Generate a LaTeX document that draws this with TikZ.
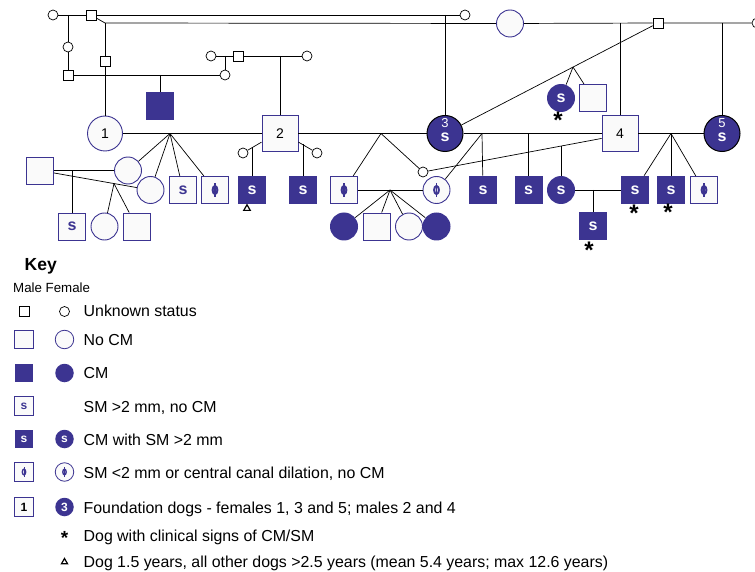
\documentclass[tikz,border=0pt]{standalone}
\usepackage{fontspec}
\setmainfont{Liberation Sans}
\usetikzlibrary{shapes.geometric}
\definecolor{dogblue}{RGB}{60,52,145}
\definecolor{paper}{RGB}{250,250,250}
\newcommand{\phimark}[1]{%
    \draw[dogblue, line width=#1*1.2pt] ([yshift=-#1*7pt]path picture bounding box.center) -- ([yshift=#1*7pt]path picture bounding box.center);
    \draw[dogblue, line width=#1*2pt] (path picture bounding box.center) ellipse [x radius=#1*2.4pt, y radius=#1*4pt];}
\tikzset{
    unkm/.style={draw=black, fill=white, line width=0.7pt, minimum size=10pt, inner sep=0pt},
    unkf/.style={unkm, circle},
    nocm/.style={draw=dogblue, fill=paper, line width=0.9pt, minimum size=27pt, inner sep=0pt},
    nocmf/.style={nocm, circle},
    cmsq/.style={fill=dogblue, minimum size=28pt, inner sep=0pt, text=white, font=\bfseries\fontsize{16}{16}\selectfont},
    cmcirc/.style={cmsq, circle},
    smbox/.style={nocm, text=dogblue, font=\bfseries\fontsize{16}{16}\selectfont},
    phibox/.style={nocm, path picture={\phimark{1}}},
    phicirc/.style={phibox, circle},
    found/.style={draw=dogblue, fill=paper, line width=0.9pt, minimum size=36pt, inner sep=0pt, font=\fontsize{14}{14}\selectfont},
    foundf/.style={circle, draw=black, fill=dogblue, line width=1pt, minimum size=36pt, inner sep=0pt},
    foundnum/.style={inner sep=0pt, text=white, font=\fontsize{13}{13}\selectfont},
    founds/.style={inner sep=0pt, text=white, font=\bfseries\fontsize{16}{16}\selectfont},
    keysym/.style={minimum size=18.5pt, line width=0.8pt, font=\bfseries\fontsize{12}{12}\selectfont},
    keytext/.style={anchor=base west, font=\fontsize{15.9}{16}\selectfont},
    ast/.style={anchor=north, inner sep=0pt, font=\bfseries\fontsize{24}{24}\selectfont},
    tri/.style={regular polygon, regular polygon sides=3, draw=black, line width=1.2pt, minimum size=7.5pt, inner sep=0pt}
}
\begin{document}
\begin{tikzpicture}[x=1pt, y=-1pt, line width=0.7pt]
\useasboundingbox (0,0) rectangle (755,572);
    % oberste Generation:
    \node[unkf] (g1) at (53,15) {};
    \node[unkm] (g2) at (91,15) {};
    \node[unkf] (g3) at (465,15) {};
    \node[unkf] (g4) at (68,47) {};
    \node[unkm] (g5) at (68,75) {};
    \node[unkm] (g6) at (105,61) {};
    \node[unkf] (g7) at (225,75) {};
    \node[unkf] (g8) at (211,56) {};
    \node[unkm] (g9) at (238,56) {};
    \node[unkf] (g10) at (307,56) {};
    \node[nocmf] (g11) at (510,23.5) {};
    \node[unkm] (g12) at (658,23) {};
    \node[unkf] (g13) at (757,23) {}; % am Rand
    \node[cmsq] (c1) at (160,106.5) {};
    % Gruenderhunde 1-5:
    \node[found, circle, minimum size=35pt] (n1) at (105,133.5) {1};
    \node[found] (n2) at (280,133.5) {2};
    \node[foundf] (n3) at (445,133.5) {};
    \node[foundnum] (n3n) at (445,123) {3};
    \node[founds] (n3s) at (445,137.5) {s};
    \node[found] (n4) at (620,133.5) {4};
    \node[foundf] (n5) at (722,133.5) {};
    \node[foundnum] (n5n) at (722,123) {5};
    \node[founds] (n5s) at (722,137.5) {s};
    \node[cmcirc] (a1) at (561,98) {s};
    \node[nocm] (a2) at (593,98) {};
    % zweite Reihe:
    \node[nocm] (b0) at (40,170.5) {};
    \node[nocmf] (b1) at (128,170.5) {};
    \node[nocmf] (b2) at (150.5,190) {};
    \node[smbox] (b3) at (183,190) {s};
    \node[phibox] (b4) at (215,190) {};
    \node[unkf] (u1) at (243,153) {};
    \node[unkf] (u2) at (317,153) {};
    \node[cmsq] (b5) at (252,190) {s};
    \node[cmsq] (b6) at (303,190) {s};
    \node[phibox] (b7) at (344,190) {};
    \node[unkf] (u3) at (423,172) {};
    \node[phicirc] (b8) at (436.5,190) {};
    \node[cmsq] (b9) at (483,190) {s};
    \node[cmsq] (b10) at (528.5,190) {s};
    \node[cmcirc] (b11) at (561,190) {s};
    \node[cmsq] (b12) at (635,190) {s};
    \node[cmsq] (b13) at (671,190) {s};
    \node[phibox] (b14) at (704,190) {};
    % dritte Reihe:
    \node[smbox] (d1) at (72,226.5) {s};
    \node[nocmf] (d2) at (104.5,226.5) {};
    \node[nocm] (d3) at (136.5,226.5) {};
    \node[cmcirc] (d4) at (344,226.5) {};
    \node[nocm] (d5) at (376.5,226.5) {};
    \node[nocmf] (d6) at (409,226.5) {};
    \node[cmcirc] (d7) at (436.5,226.5) {};
    \node[cmsq] (d8) at (593,226.5) {s};
    % Sterne und Dreieck:
    \node[ast] (s1) at (558,112) {*};
    \node[ast] (s2) at (634,205) {*};
    \node[ast] (s3) at (668,204) {*};
    \node[ast] (s4) at (589,242) {*};
    \node[tri] (t1) at (247,208.5) {};
    % Verzweigungspunkte:
    \coordinate (ja) at (68,15);
    \coordinate (jb) at (105,23);
    \coordinate (jc) at (445,15);
    \coordinate (jd) at (620,23);
    \coordinate (je) at (722,23);
    \coordinate (jf) at (160,75);
    \coordinate (jg) at (225,56);
    \coordinate (jh) at (280,56);
    \coordinate (ji) at (573,67);
    \coordinate (k1) at (170,133.5);
    \coordinate (k2) at (381,133.5);
    \coordinate (k3) at (482,133.5);
    \coordinate (k4) at (528.5,133.5);
    \coordinate (k5) at (561,145.8);
    \coordinate (k6) at (671,133.5);
    \coordinate (kl) at (252,147.5);
    \coordinate (kr) at (303,144.5);
    \coordinate (m1) at (72,170.5);
    \coordinate (m2) at (114,183.6);
    \coordinate (m3) at (390,190);
    \coordinate (m4) at (593,190);
    % Linien oben:
    \draw (g1) -- (g2) -- (g3);
    \draw (g2) -- (jb) -- (g11) -- (g12) -- (g13);
    \draw (ja) -- (g4) -- (g5);
    \draw (jb) -- (g6) -- (n1);
    \draw (jc) -- (n3);
    \draw (jd) -- (n4);
    \draw (je) -- (n5);
    \draw (g5) -- (g7);
    \draw (jf) -- (c1);
    \draw (g8) -- (g9) -- (g10);
    \draw (jg) -- (g7);
    \draw (jh) -- (n2);
    \draw (g12) -- (n3);
    \draw (ji) -- (a1);
    \draw (ji) -- (a2);
    % Paarungen der Gruender:
    \draw (n1) -- (n2) -- (n3) -- (n4) -- (n5);
    \draw (u1) -- (n2.205);
    \draw (u2) -- (n2.335);
    \draw (u3) -- (n4.195);
    \foreach \c in {b1,b2,b3,b4} \draw (k1) -- (\c);
    \draw (kl) -- (b5);
    \draw (kr) -- (b6);
    \draw (k2) -- (b7);
    \draw (k2) -- (u3);
    \draw (k3) -- (b8);
    \draw (k3) -- (b9);
    \draw (k4) -- (b10);
    \draw (k5) -- (b11);
    \foreach \c in {b12,b13,b14} \draw (k6) -- (\c);
    % untere Paarungen:
    \draw (b0) -- (b1);
    \draw (b0) -- (b2);
    \draw (m1) -- (d1);
    \draw (m2) -- (d2);
    \draw (m2) -- (d3);
    \draw (b7) -- (b8);
    \foreach \c in {d4,d5,d6,d7} \draw (m3) -- (\c);
    \draw (b11) -- (b12);
    \draw (m4) -- (d8);
    % Legende:
    \node[anchor=base west, font=\bfseries\fontsize{17.5}{18}\selectfont] (key) at (21,270) {Key};
    \node[anchor=base west, font=\fontsize{13.3}{14}\selectfont] (sexes) at (9.5,292.5) {Male Female};
    \node[unkm] (km1) at (24,311.5) {};
    \node[unkf] (kf1) at (64.5,311.5) {};
    \node[keytext] (kt1) at (80,316) {Unknown status};
    \node[nocm, keysym] (km2) at (24,339.5) {};
    \node[nocmf, keysym] (kf2) at (64.5,339.5) {};
    \node[keytext] (kt2) at (80,345) {No CM};
    \node[cmsq, keysym] (km3) at (24,373) {};
    \node[cmcirc, keysym] (kf3) at (64.5,373) {};
    \node[keytext] (kt3) at (80,378.5) {CM};
    \node[smbox, keysym] (km4) at (24,406) {s};
    \node[keytext] (kt4) at (80,412) {SM >2 mm, no CM};
    \node[cmsq, keysym] (km5) at (24,439) {s};
    \node[cmcirc, keysym] (kf5) at (64.5,439) {s};
    \node[keytext] (kt5) at (80,445) {CM with SM >2 mm};
    \node[nocm, keysym, path picture={\phimark{0.7}}] (km6) at (24,472) {};
    \node[nocmf, keysym, path picture={\phimark{0.7}}] (kf6) at (64.5,472) {};
    \node[keytext] (kt6) at (80,478) {SM <2 mm or central canal dilation, no CM};
    \node[nocm, keysym, text=black] (km7) at (24,507) {1};
    \node[cmcirc, keysym] (kf7) at (64.5,507) {3};
    \node[keytext] (kt7) at (80,513) {Foundation dogs - females 1, 3 and 5; males 2 and 4};
    \node[ast, font=\bfseries\fontsize{19}{19}\selectfont] (ks) at (64.5,531) {*};
    \node[keytext] (kt8) at (80,541) {Dog with clinical signs of CM/SM};
    \node[tri, minimum size=7pt] (kd) at (64.5,562) {};
    \node[keytext] (kt9) at (80,567) {Dog 1.5 years, all other dogs >2.5 years (mean 5.4 years; max 12.6 years)};
\end{tikzpicture}
\end{document}
